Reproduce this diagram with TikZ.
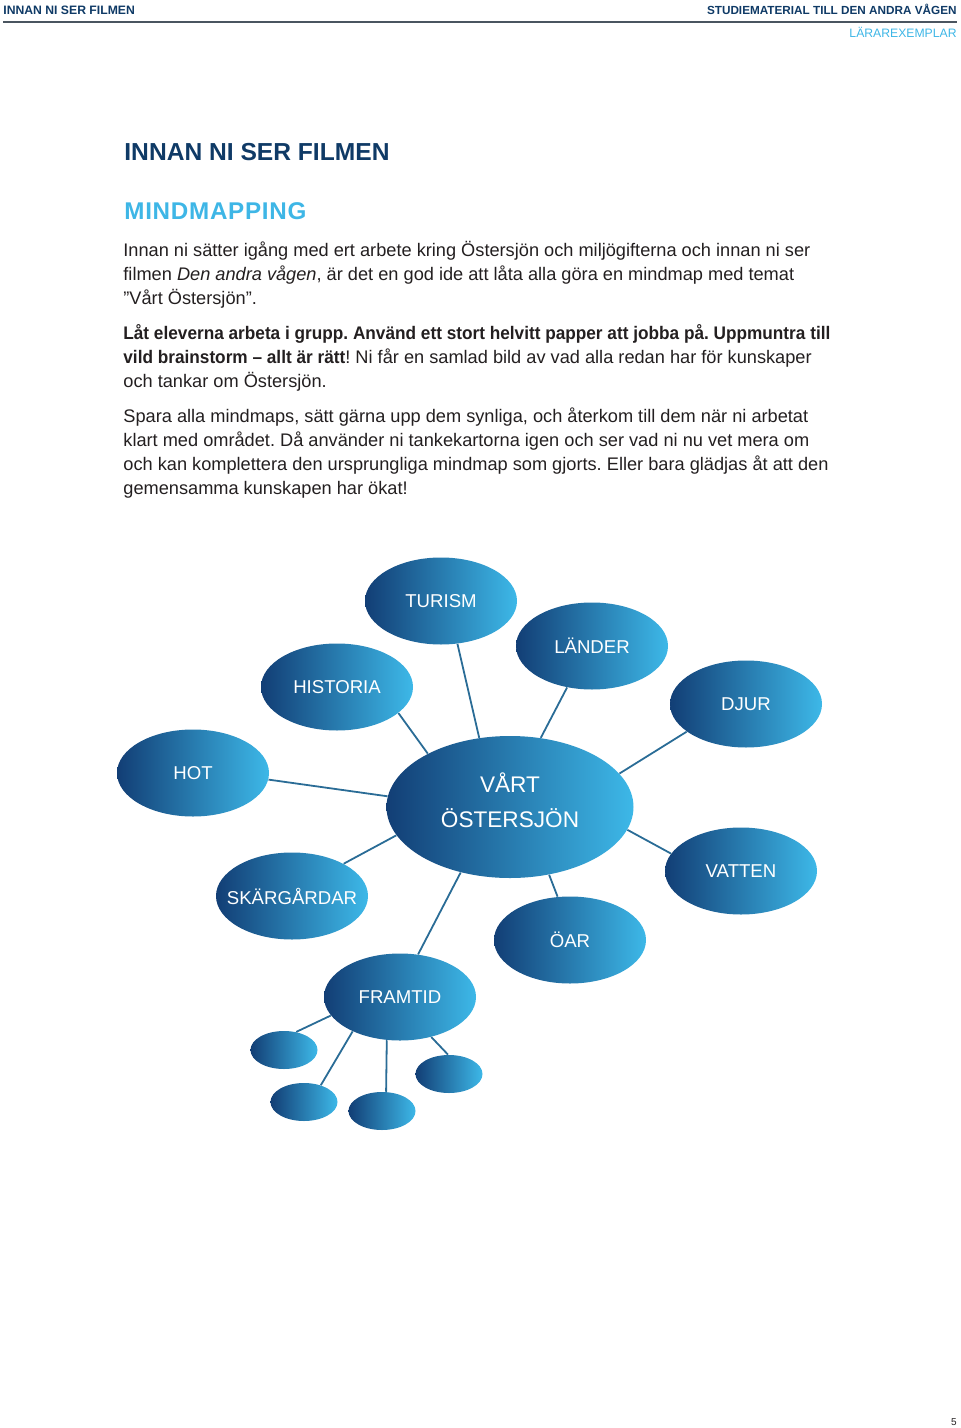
\documentclass[tikz,border=0pt]{standalone}
\usepackage{fontspec}
\setmainfont{Liberation Sans}
\usepackage{tikz}
\usetikzlibrary{shapes.geometric}
\definecolor{ostnavy}{HTML}{0F3A66}
\definecolor{ostsky}{HTML}{3EB6E6}
\definecolor{ostdark}{HTML}{123E75}
\definecolor{ostlight}{HTML}{3DB8E8}
\definecolor{ostline}{HTML}{2A6C96}
\definecolor{osttext}{HTML}{231F20}
\definecolor{ostrule}{HTML}{4A5560}
\frenchspacing
\newcommand\ostbold[1]{{\bfseries\addfontfeature{FakeStretch=0.946}#1}}

\tikzset{
  bubble/.style={ellipse,inner sep=0pt,minimum width=76pt,minimum height=43.5pt,
    left color=ostdark,right color=ostlight,text=white,font=\fontsize{9.3}{11}\selectfont},
  dot/.style={bubble,minimum width=33.5pt,minimum height=19pt},
  twig/.style={draw=ostline,line width=0.9pt},
  para/.style={anchor=base west,align=left,inner sep=0pt,text=osttext,font=\fontsize{9.1}{12}\selectfont},
}

\begin{document}
\begin{tikzpicture}[x=0.5pt,y=-0.5pt]
\useasboundingbox (0,0) rectangle (960,1428);
% running head
\node[anchor=base west,inner sep=0pt,text=ostnavy,font=\fontsize{6.1}{7}\selectfont\bfseries] (runleft) at (3,15) {INNAN NI SER FILMEN};
\node[anchor=base east,inner sep=0pt,text=ostnavy,font=\fontsize{5.87}{7}\selectfont\bfseries] (runright) at (957,15) {STUDIEMATERIAL TILL DEN ANDRA VÅGEN};
\draw[ostrule,line width=1pt] (3,22) -- (957,22);
\node[anchor=base east,inner sep=0pt,text=ostsky,font=\fontsize{6.1}{7}\selectfont] (copy) at (957,38) {LÄRAREXEMPLAR};

% headings
\node[anchor=base west,inner sep=0pt,text=ostnavy,font=\fontsize{12.3}{14}\selectfont\bfseries] (title) at (124,161) {INNAN NI SER FILMEN};
\node[anchor=base west,inner sep=0pt,text=ostsky,font=\fontsize{12.1}{14}\selectfont\bfseries\addfontfeature{LetterSpace=3}] (sub) at (124,220) {MINDMAPPING};

% text (anchored on the last line)
\node[para] (intro) at (123,305) {Innan ni sätter igång med ert arbete kring Östersjön och miljögifterna och innan ni ser\\
filmen \textit{Den andra vågen}, är det en god ide att låta alla göra en mindmap med temat\\
”Vårt Östersjön”.};
\node[para] (group) at (123,387) {\ostbold{Låt eleverna arbeta i grupp. Använd ett stort helvitt papper att jobba på. Uppmuntra till}\\
\ostbold{vild brainstorm – allt är rätt}! Ni får en samlad bild av vad alla redan har för kunskaper\\
och tankar om Östersjön.};
\node[para] (save) at (123,494) {Spara alla mindmaps, sätt gärna upp dem synliga, och återkom till dem när ni arbetat\\
klart med området. Då använder ni tankekartorna igen och ser vad ni nu vet mera om\\
och kan komplettera den ursprungliga mindmap som gjorts. Eller bara glädjas åt att den\\
gemensamma kunskapen har ökat!};

% mindmap
\node[bubble,minimum width=123.5pt,minimum height=71pt,
  label={[name=ostersjontext,align=center,text=white,font=\fontsize{11.3}{17.5}\selectfont,yshift=3.5pt]center:VÅRT\\ÖSTERSJÖN}] (ostersjon) at (510,807) {};
\node[bubble] (turism) at (441,601) {TURISM};
\node[bubble] (lander) at (592,646) {LÄNDER};
\node[bubble] (historia) at (337,687) {HISTORIA};
\node[bubble] (djur) at (746,704) {DJUR};
\node[bubble] (hot) at (193,773) {HOT};
\node[bubble,inner xsep=-14pt] (skargardar) at (292,896) {SKÄRGÅRDAR};
\node[bubble] (vatten) at (741,871) {VATTEN};
\node[bubble] (oar) at (570,940) {ÖAR};
\node[bubble] (framtid) at (400,997) {FRAMTID};
\node[dot] (fr1) at (284,1050) {};
\node[dot] (fr2) at (304,1102) {};
\node[dot] (fr3) at (382,1111) {};
\node[dot] (fr4) at (449,1074) {};

\draw[twig] (turism.-69) -- (ostersjon.114);
\draw[twig] (lander.-121) -- (ostersjon.66);
\draw[twig] (historia.-23) -- (ostersjon.147);
\draw[twig] (djur.-155) -- (ostersjon.17);
\draw[twig] (hot.-5) -- (ostersjon.175);
\draw[twig] (skargardar.32) -- (ostersjon.-166);
\draw[twig] (vatten.166) -- (ostersjon.-11);
\draw[twig] (oar.106) -- (ostersjon.-60);
\draw[twig] (framtid.67) -- (ostersjon.-127);
\draw[twig] (framtid.-165) -- (fr1.56);
\draw[twig] (framtid.-144) -- (fr2.45);
\draw[twig] (framtid.-107) -- (fr3.78);
\draw[twig] (framtid.-52) -- (fr4.93);

\node[anchor=base east,inner sep=0pt,text=osttext,font=\fontsize{5}{6}\selectfont] (pageno) at (957,1425) {5};
\end{tikzpicture}
\end{document}
